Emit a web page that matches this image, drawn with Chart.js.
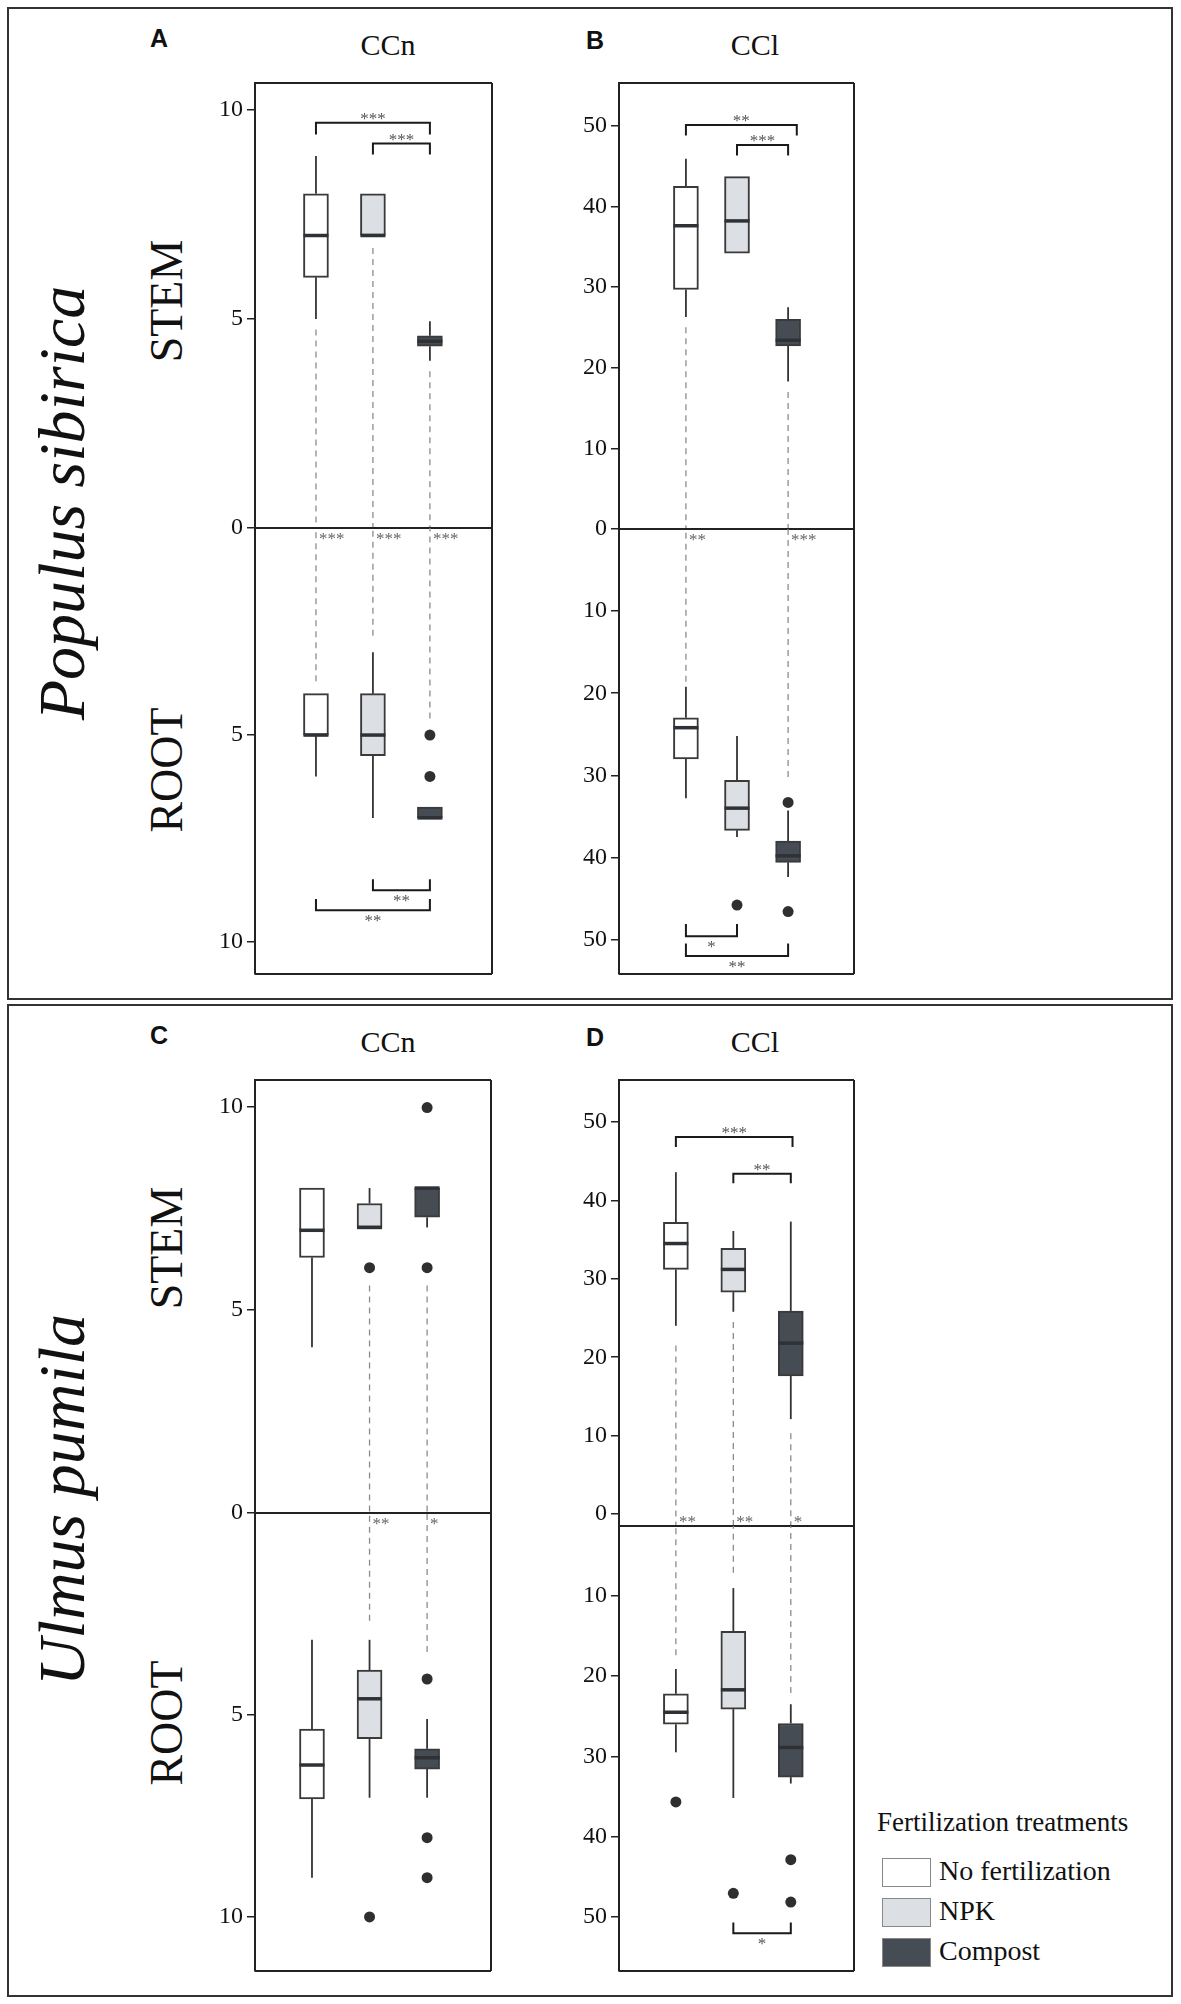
<!DOCTYPE html>
<html>
<head>
<meta charset="utf-8">
<script src="https://cdn.jsdelivr.net/npm/chart.js@4.4.0/dist/chart.umd.min.js"></script>
<style>
  body { margin: 0; background: #fff; width: 1181px; height: 2004px; position: relative; font-family: "Liberation Serif", "DejaVu Serif", serif; color: #111; }
  .frame { position: absolute; border: 2px solid #333; box-sizing: border-box; }
  .c { position: absolute; transform: translate(-50%, -50%); white-space: nowrap; line-height: 1; }
  .rot { position: absolute; transform: translate(-50%, -50%) rotate(-90deg); white-space: nowrap; line-height: 1; }
  .letter { font-family: "Liberation Sans", Arial, sans-serif; font-weight: bold; font-size: 25px; }
  .title { font-size: 30px; }
  .part { font-size: 46px; }
  .species { font-size: 66px; font-style: italic; }
  .leg { position: absolute; line-height: 1; white-space: nowrap; }
  .sw { position: absolute; width: 49px; height: 29px; border: 1.5px solid #888; box-sizing: border-box; }
</style>
</head>
<body>
<div class="frame" style="left:7px;top:7px;width:1166px;height:993px"></div>
<div class="frame" style="left:7px;top:1004px;width:1166px;height:993px"></div>

<div class="c letter" style="left:159px;top:38px">A</div>
<div class="c letter" style="left:595px;top:40px">B</div>
<div class="c letter" style="left:159px;top:1035px">C</div>
<div class="c letter" style="left:595px;top:1037px">D</div>
<div class="c title" style="left:388px;top:45px">CCn</div>
<div class="c title" style="left:755px;top:45px">CCl</div>
<div class="c title" style="left:388px;top:1042px">CCn</div>
<div class="c title" style="left:755px;top:1042px">CCl</div>

<div class="rot part" style="left:167px;top:301px">STEM</div>
<div class="rot part" style="left:167px;top:770px">ROOT</div>
<div class="rot part" style="left:167px;top:1248px">STEM</div>
<div class="rot part" style="left:167px;top:1723px">ROOT</div>
<div class="rot species" style="left:62px;top:503px">Populus sibirica</div>
<div class="rot species" style="left:62px;top:1500px">Ulmus pumila</div>

<div class="leg" style="left:877px;top:1809px;font-size:27px">Fertilization treatments</div>
<div id="legend"></div>

<script>
// treatments, x positions and fills
const groupNames = ['No fertilization', 'NPK', 'Compost'];
const groupX = [1, 2, 3];
const fills = ['#ffffff', '#dcdfe3', '#464c53'];

// A: Populus sibirica, CCn
const aStemLo   = [5.0, null, 4.0];
const aStemQ1   = [6.0, 7.0, 4.35];
const aStemMed  = [7.0, 7.0, 4.47];
const aStemQ3   = [8.0, 8.0, 4.6];
const aStemHi   = [8.9, null, 4.95];
const aStemOut  = [[], [], []];
const aStemDash = [4.75, 6.7, 3.75];
const aRootLo   = [null, 3.0, null];
const aRootQ1   = [4.0, 4.0, 6.74];
const aRootMed  = [5.0, 5.0, 7.0];
const aRootQ3   = [5.0, 5.5, 7.0];
const aRootHi   = [6.0, 7.0, null];
const aRootOut  = [[], [], [5.0, 6.0]];
const aRootDash = [3.7, 2.6, 4.6];
const aStemBr   = [[1, 3, 9.7, 9.42, '***'], [2, 3, 9.2, 8.94, '***']];
const aRootBr   = [[2, 3, 8.75, 8.48, '**'], [1, 3, 9.23, 8.96, '**']];
const aZeroStars = ['***', '***', '***'];
const aStemTicks = [0, 5, 10];
const aRootTicks = [5, 10];

// B: Populus sibirica, CCl
const bStemLo   = [26.3, null, 18.3];
const bStemQ1   = [29.7, 34.2, 22.7];
const bStemMed  = [37.6, 38.2, 23.4];
const bStemQ3   = [42.5, 43.7, 26.0];
const bStemHi   = [45.9, null, 27.5];
const bStemOut  = [[], [], []];
const bStemDash = [25.0, null, 17.0];
const bRootLo   = [19.2, 25.2, 34.3];
const bRootQ1   = [23.0, 30.6, 38.0];
const bRootMed  = [24.2, 34.0, 39.8];
const bRootQ3   = [28.0, 36.7, 40.6];
const bRootHi   = [32.8, 37.5, 42.4];
const bRootOut  = [[], [45.8], [33.3, 46.6]];
const bRootDash = [18.6, null, 30.2];
const bStemBr   = [[1, 3.17, 50.1, 48.8, '**'], [2, 3, 47.6, 46.3, '***']];
const bRootBr   = [[1, 2, 49.6, 48.1, '*'], [1, 3, 52.0, 50.5, '**']];
const bZeroStars = ['**', null, '***'];
const bStemTicks = [0, 10, 20, 30, 40, 50];
const bRootTicks = [10, 20, 30, 40, 50];

// C: Ulmus pumila, CCn
const cStemLo   = [4.08, null, 7.03];
const cStemQ1   = [6.29, 7.03, 7.28];
const cStemMed  = [6.96, 7.03, 8.0];
const cStemQ3   = [8.0, 7.62, 8.0];
const cStemHi   = [null, 8.0, null];
const cStemOut  = [[], [6.04], [9.98, 6.04]];
const cStemDash = [null, 5.6, 5.6];
const cRootLo   = [3.14, 3.14, 5.1];
const cRootQ1   = [5.35, 3.89, 5.84];
const cRootMed  = [6.24, 4.6, 6.06];
const cRootQ3   = [7.08, 5.59, 6.34];
const cRootHi   = [9.03, 7.05, 7.05];
const cRootOut  = [[], [10.0], [4.11, 8.04, 9.03]];
const cRootDash = [null, 2.67, 3.44];
const cStemBr   = [];
const cRootBr   = [];
const cZeroStars = [null, '**', '*'];
const cStemTicks = [0, 5, 10];
const cRootTicks = [5, 10];

// D: Ulmus pumila, CCl
const dStemLo   = [24.0, 25.8, 12.1];
const dStemQ1   = [31.2, 28.3, 17.6];
const dStemMed  = [34.5, 31.2, 21.8];
const dStemQ3   = [37.2, 33.9, 25.9];
const dStemHi   = [43.6, 36.1, 37.3];
const dStemOut  = [[], [], []];
const dStemDash = [21.5, 24.5, 10.3];
const dRootLo   = [19.1, 9.0, 23.5];
const dRootQ1   = [22.2, 14.4, 25.9];
const dRootMed  = [24.5, 21.7, 28.9];
const dRootQ3   = [26.0, 24.1, 32.6];
const dRootHi   = [29.5, 35.2, 33.4];
const dRootOut  = [[35.7], [47.1], [42.9, 48.2]];
const dRootDash = [17.4, 7.1, 22.1];
const dStemBr   = [[1, 3.03, 48.1, 46.8, '***'], [2, 3, 43.4, 42.2, '**']];
const dRootBr   = [[2, 3, 52.1, 50.75, '*']];
const dZeroStars = ['**', '**', '*'];
const dStemTicks = [0, 10, 20, 30, 40, 50];
const dRootTicks = [10, 20, 30, 40, 50];

// plot geometry (pixels on the page) and axis ranges
const AXIS_W = 70;
const PAD = 22;
const panels = [
  { left: 255, right: 492, top: 83, zero: 528, bottom: 974, xMin: -0.07, xMax: 4.09,
    stem: { min: 0, max: 10.65, ticks: aStemTicks, lo: aStemLo, q1: aStemQ1, med: aStemMed, q3: aStemQ3, hi: aStemHi, out: aStemOut, dash: aStemDash, br: aStemBr },
    root: { min: 0, max: 10.77, ticks: aRootTicks, lo: aRootLo, q1: aRootQ1, med: aRootMed, q3: aRootQ3, hi: aRootHi, out: aRootOut, dash: aRootDash, br: aRootBr },
    stars: aZeroStars, starsAbove: false },
  { left: 619, right: 854, top: 83, zero: 529, bottom: 974, xMin: -0.31, xMax: 4.29,
    stem: { min: 0, max: 55.3, ticks: bStemTicks, lo: bStemLo, q1: bStemQ1, med: bStemMed, q3: bStemQ3, hi: bStemHi, out: bStemOut, dash: bStemDash, br: bStemBr },
    root: { min: 0, max: 54.2, ticks: bRootTicks, lo: bRootLo, q1: bRootQ1, med: bRootMed, q3: bRootQ3, hi: bRootHi, out: bRootOut, dash: bRootDash, br: bRootBr },
    stars: bZeroStars, starsAbove: false },
  { left: 255, right: 491, top: 1080, zero: 1513, bottom: 1971, xMin: 0.01, xMax: 4.11,
    stem: { min: 0, max: 10.66, ticks: cStemTicks, lo: cStemLo, q1: cStemQ1, med: cStemMed, q3: cStemQ3, hi: cStemHi, out: cStemOut, dash: cStemDash, br: cStemBr },
    root: { min: 0, max: 11.34, ticks: cRootTicks, lo: cRootLo, q1: cRootQ1, med: cRootMed, q3: cRootQ3, hi: cRootHi, out: cRootOut, dash: cRootDash, br: cRootBr },
    stars: cZeroStars, starsAbove: false },
  { left: 619, right: 854, top: 1080, zero: 1526, bottom: 1971, xMin: 0.01, xMax: 4.1,
    stem: { min: -1.53, max: 55.36, ticks: dStemTicks, lo: dStemLo, q1: dStemQ1, med: dStemMed, q3: dStemQ3, hi: dStemHi, out: dStemOut, dash: dStemDash, br: dStemBr },
    root: { min: 1.25, max: 56.8, ticks: dRootTicks, lo: dRootLo, q1: dRootQ1, med: dRootMed, q3: dRootQ3, hi: dRootHi, out: dRootOut, dash: dRootDash, br: dRootBr },
    stars: dZeroStars, starsAbove: true }
];

function seg(ctx, x1, y1, x2, y2) {
  ctx.beginPath(); ctx.moveTo(x1, y1); ctx.lineTo(x2, y2); ctx.stroke();
}

function boxPlugin(h, isRoot, stars, starsAbove) {
  return {
    id: 'boxExtras',
    beforeDatasetsDraw(chart) {
      const { ctx, chartArea: a, scales: { x, y } } = chart;
      ctx.save();
      // dashed links to the zero line
      ctx.strokeStyle = '#8c8c8c'; ctx.lineWidth = 1.3; ctx.setLineDash([6, 5]);
      h.dash.forEach((v, i) => {
        if (v == null) return;
        const px = x.getPixelForValue(groupX[i]);
        seg(ctx, px, y.getPixelForValue(v), px, isRoot ? a.top : a.bottom);
      });
      ctx.setLineDash([]);
      // whiskers
      ctx.strokeStyle = '#333'; ctx.lineWidth = 1.8;
      groupX.forEach((gx, i) => {
        const px = x.getPixelForValue(gx);
        if (h.lo[i] != null) seg(ctx, px, y.getPixelForValue(h.lo[i]), px, y.getPixelForValue(h.q1[i]));
        if (h.hi[i] != null) seg(ctx, px, y.getPixelForValue(h.q3[i]), px, y.getPixelForValue(h.hi[i]));
      });
      ctx.restore();
    },
    afterDatasetsDraw(chart) {
      const { ctx, chartArea: a, scales: { x, y } } = chart;
      ctx.save();
      // medians
      ctx.strokeStyle = '#2e3236'; ctx.lineWidth = 3.5;
      groupX.forEach((gx, i) => {
        const px = x.getPixelForValue(gx);
        const py = y.getPixelForValue(h.med[i]);
        seg(ctx, px - 12.5, py, px + 12.5, py);
      });
      // significance brackets
      ctx.strokeStyle = '#1a1a1a'; ctx.lineWidth = 2;
      ctx.fillStyle = '#555'; ctx.font = '17px "Liberation Serif"'; ctx.textAlign = 'center';
      h.br.forEach(([from, to, level, leg, label]) => {
        const x1 = x.getPixelForValue(from), x2 = x.getPixelForValue(to);
        const yl = y.getPixelForValue(level), yg = y.getPixelForValue(leg);
        ctx.beginPath();
        ctx.moveTo(x1, yg); ctx.lineTo(x1, yl); ctx.lineTo(x2, yl); ctx.lineTo(x2, yg);
        ctx.stroke();
        ctx.textBaseline = 'alphabetic';
        ctx.fillText(label, (x1 + x2) / 2, isRoot ? yl + 16 : yl + 1);
      });
      // stars beside the dashed links at the zero line
      ctx.fillStyle = '#666'; ctx.textAlign = 'left';
      const here = isRoot ? !starsAbove : starsAbove;
      if (here) {
        stars.forEach((s, i) => {
          if (!s) return;
          const px = x.getPixelForValue(groupX[i]) + 3;
          ctx.fillText(s, px, isRoot ? a.top + 16 : a.bottom + 1);
        });
      }
      // plot frame and zero line
      ctx.strokeStyle = '#222'; ctx.lineWidth = 2;
      seg(ctx, a.right, a.top, a.right, a.bottom);
      if (isRoot) seg(ctx, a.left, a.bottom, a.right, a.bottom);
      else { seg(ctx, a.left, a.top, a.right, a.top); seg(ctx, a.left, a.bottom, a.right, a.bottom); }
      ctx.restore();
    }
  };
}

function addHalf(p, isRoot) {
  const h = isRoot ? p.root : p.stem;
  const padT = PAD, padB = PAD, padR = 8;
  const top = isRoot ? p.zero : p.top;
  const bottom = isRoot ? p.bottom : p.zero;
  const w = AXIS_W + (p.right - p.left) + padR;
  const ht = padT + (bottom - top) + padB;
  const cv = document.createElement('canvas');
  cv.width = w; cv.height = ht;
  cv.style.cssText = 'position:absolute;left:' + (p.left - AXIS_W) + 'px;top:' + (top - padT) + 'px';
  document.body.appendChild(cv);

  const outPts = [];
  h.out.forEach((vals, i) => vals.forEach(v => outPts.push({ x: groupX[i], y: v })));

  new Chart(cv, {
    type: 'bar',
    data: {
      datasets: [
        {
          type: 'bar',
          data: groupX.map((gx, i) => ({ x: gx, y: [h.q1[i], h.q3[i]] })),
          backgroundColor: fills,
          borderColor: '#3a3a3a',
          borderWidth: 2,
          borderSkipped: false,
          barThickness: 25,
          order: 2
        },
        {
          type: 'scatter',
          data: outPts,
          pointRadius: 5.5,
          pointBackgroundColor: '#2f2f2f',
          pointBorderWidth: 0,
          order: 1
        }
      ]
    },
    options: {
      responsive: false,
      animation: false,
      events: [],
      layout: { padding: { left: 0, right: padR, top: padT, bottom: padB } },
      plugins: { legend: { display: false }, tooltip: { enabled: false } },
      scales: {
        x: { type: 'linear', display: false, min: p.xMin, max: p.xMax, offset: false },
        y: {
          type: 'linear',
          min: h.min,
          max: h.max,
          reverse: isRoot,
          afterBuildTicks: s => { s.ticks = h.ticks.map(v => ({ value: v })); },
          afterFit: s => { s.width = AXIS_W; },
          border: { display: true, color: '#222', width: 2 },
          grid: { drawOnChartArea: false, drawTicks: true, tickLength: 8, color: '#222', lineWidth: 1.5 },
          ticks: { autoSkip: false, padding: 4, color: '#111', font: { family: '"Liberation Serif"', size: 24 } }
        }
      }
    },
    plugins: [boxPlugin(h, isRoot, p.stars, p.starsAbove)]
  });
}

panels.forEach(p => { addHalf(p, false); addHalf(p, true); });

// legend
const legendTops = [1858, 1898, 1938];
const legend = document.getElementById('legend');
groupNames.forEach((name, i) => {
  const sw = document.createElement('div');
  sw.className = 'sw';
  sw.style.cssText = 'left:882px;top:' + legendTops[i] + 'px;background:' + fills[i];
  legend.appendChild(sw);
  const t = document.createElement('div');
  t.className = 'leg';
  t.style.cssText = 'left:939px;top:' + (legendTops[i] - 1) + 'px;font-size:28px';
  t.textContent = name;
  legend.appendChild(t);
});
</script>
</body>
</html>
